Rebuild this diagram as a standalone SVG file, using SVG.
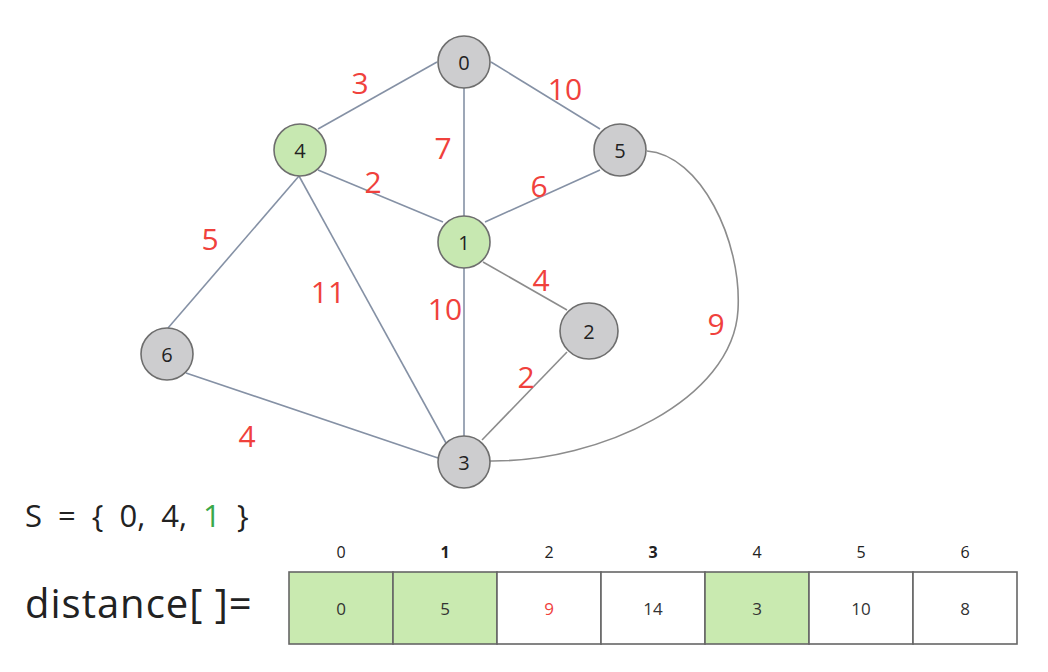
<svg xmlns="http://www.w3.org/2000/svg" width="1048" height="672" viewBox="0 0 1048 672">
<style>
text{font-family:"Open Sans","Noto Sans","DejaVu Sans",sans-serif}
.e{stroke:#8591a5;stroke-width:1.6;fill:none}
.eg{stroke:#8c8c8c;stroke-width:1.6;fill:none}
.n{stroke:#6e6e6e;stroke-width:1.6}
.g{fill:#cdcdcf}
.s{fill:#c7e8b1}
.nl{font-size:20px;fill:#222;text-anchor:middle;dominant-baseline:central}
.w{font-size:30px;fill:#f0413c;text-anchor:middle;dominant-baseline:central}
.idx{font-size:16px;fill:#222;text-anchor:middle}
.val{font-size:17px;fill:#333;text-anchor:middle;dominant-baseline:central}
.val.red{fill:#f0413c}
.cell{stroke:#666;stroke-width:1.6}
</style>
<rect width="1048" height="672" fill="#fff"/>
<g id="connectors">
<line class="e" x1="437" y1="62" x2="318" y2="129"/>
<line class="e" x1="464" y1="88" x2="464" y2="216"/>
<line class="e" x1="491" y1="62" x2="600" y2="129"/>
<line class="e" x1="318" y1="170" x2="443" y2="222"/>
<line class="e" x1="485" y1="222" x2="600" y2="170"/>
<line class="e" x1="299" y1="176" x2="168" y2="328"/>
<line class="e" x1="299" y1="176" x2="446" y2="443"/>
<line class="e" x1="464" y1="268" x2="464" y2="436"/>
<line class="eg" x1="483" y1="262" x2="567" y2="310"/>
<line class="eg" x1="567" y1="352" x2="482" y2="440"/>
<line class="e" x1="186" y1="373" x2="438" y2="458"/>
<path class="eg" d="M647 151 C700 155 742 240 738 310 C733 400 600 462 490 461"/>
</g>
<g id="weights">
<text class="w" x="360" y="82">3</text>
<text class="w" x="565" y="88">10</text>
<text class="w" x="443" y="147">7</text>
<text class="w" x="373" y="181">2</text>
<text class="w" x="539" y="185">6</text>
<text class="w" x="210" y="238">5</text>
<text class="w" x="328" y="291">11</text>
<text class="w" x="445" y="308">10</text>
<text class="w" x="541" y="279">4</text>
<text class="w" x="526" y="376">2</text>
<text class="w" x="716" y="323">9</text>
<text class="w" x="247" y="435">4</text>
</g>
<g id="node0"><circle class="n g" cx="464" cy="62" r="26"/><text class="nl" x="464" y="62">0</text></g>
<g id="node4"><circle class="n s" cx="300" cy="150" r="26"/><text class="nl" x="300" y="150">4</text></g>
<g id="node5"><circle class="n g" cx="620" cy="150" r="26"/><text class="nl" x="620" y="150">5</text></g>
<g id="node1"><circle class="n s" cx="464" cy="242" r="26"/><text class="nl" x="464" y="242">1</text></g>
<g id="node2"><ellipse class="n g" cx="589" cy="331" rx="29" ry="28"/><text class="nl" x="589" y="331">2</text></g>
<g id="node6"><circle class="n g" cx="167" cy="354" r="26"/><text class="nl" x="167" y="354">6</text></g>
<g id="node3"><circle class="n g" cx="464" cy="462" r="26"/><text class="nl" x="464" y="462">3</text></g>
<g id="setS"><text x="25" y="527" font-size="31" fill="#222" word-spacing="8">S = { 0, 4, <tspan fill="#3aa84a">1</tspan> }</text></g>
<g id="distance">
<text x="25" y="618" font-size="40" fill="#222" letter-spacing="1">distance[ ]=</text>
<rect class="cell" x="289" y="572" width="104" height="72" fill="#c9eab0"/>
<rect class="cell" x="393" y="572" width="104" height="72" fill="#c9eab0"/>
<rect class="cell" x="497" y="572" width="104" height="72" fill="#fff"/>
<rect class="cell" x="601" y="572" width="104" height="72" fill="#fff"/>
<rect class="cell" x="705" y="572" width="104" height="72" fill="#c9eab0"/>
<rect class="cell" x="809" y="572" width="104" height="72" fill="#fff"/>
<rect class="cell" x="913" y="572" width="104" height="72" fill="#fff"/>
<text class="idx" x="341" y="558">0</text>
<text class="idx" x="445" y="558" font-weight="bold">1</text>
<text class="idx" x="549" y="558">2</text>
<text class="idx" x="653" y="558" font-weight="bold">3</text>
<text class="idx" x="757" y="558">4</text>
<text class="idx" x="861" y="558">5</text>
<text class="idx" x="965" y="558">6</text>
<text class="val" x="341" y="608">0</text>
<text class="val" x="445" y="608">5</text>
<text class="val red" x="549" y="608">9</text>
<text class="val" x="653" y="608">14</text>
<text class="val" x="757" y="608">3</text>
<text class="val" x="861" y="608">10</text>
<text class="val" x="965" y="608">8</text>
</g>
</svg>
